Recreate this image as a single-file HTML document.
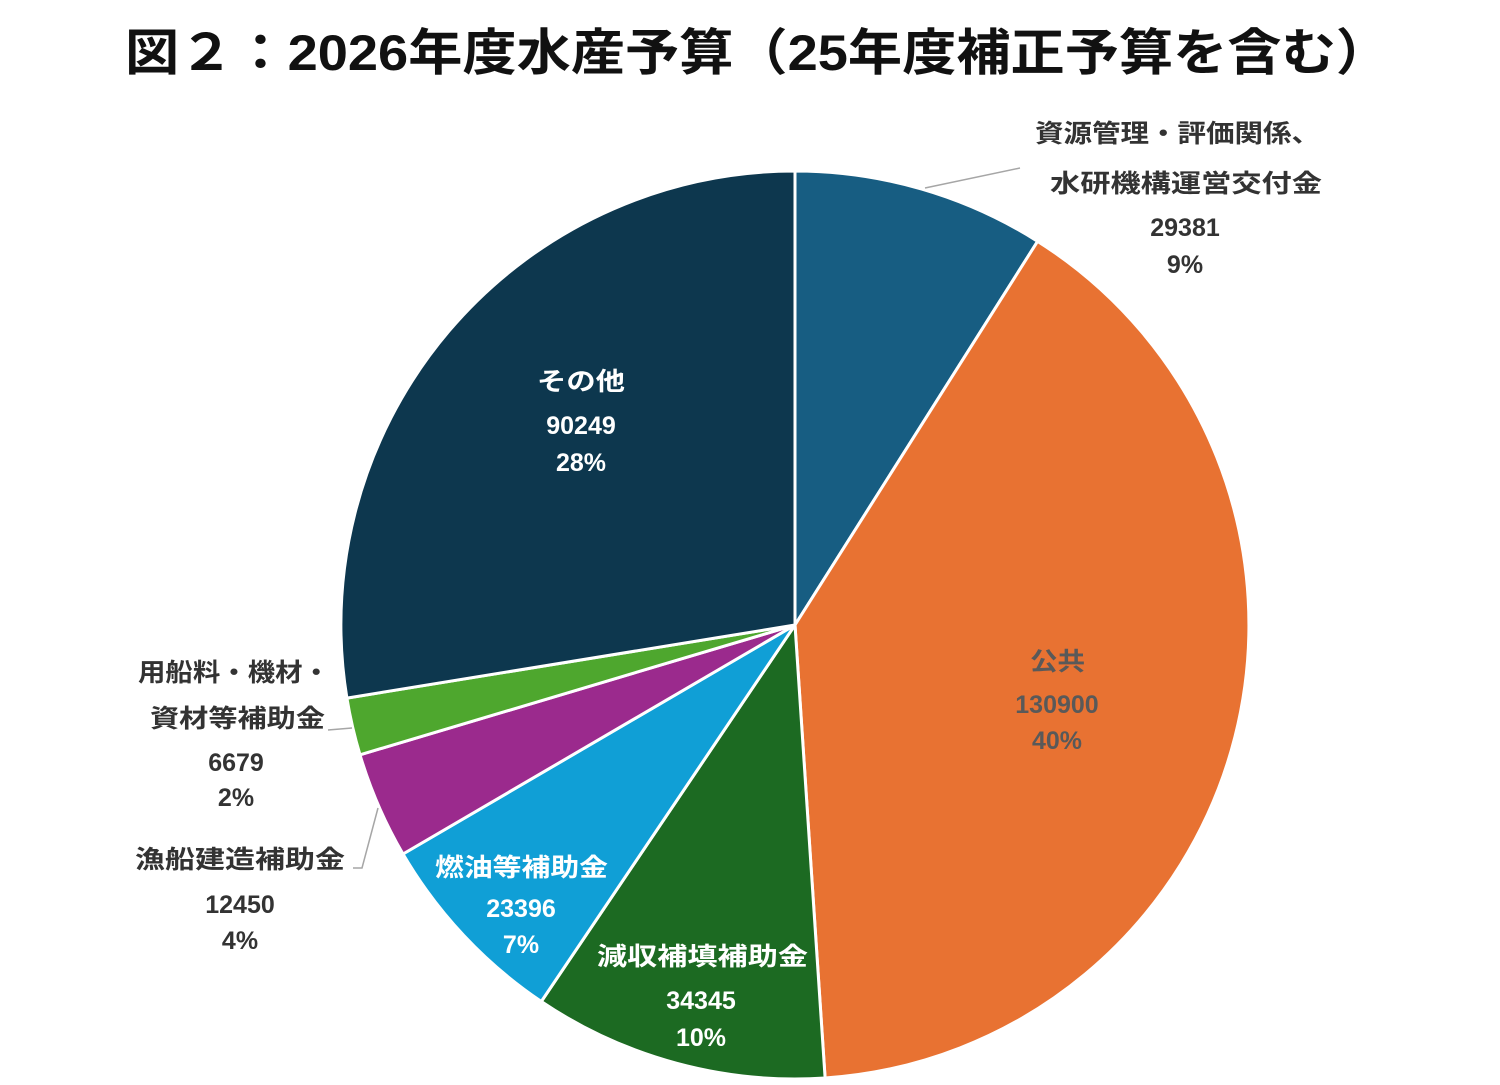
<!DOCTYPE html>
<html><head><meta charset="utf-8"><style>
html,body{margin:0;padding:0;background:#fff;}
svg text{font-family:"Liberation Sans","Noto Sans CJK JP",sans-serif;font-weight:bold;}
</style></head><body>
<svg width="1500" height="1080" viewBox="0 0 1500 1080" xmlns="http://www.w3.org/2000/svg">
<rect width="1500" height="1080" fill="#fff"/>
<text x="125" y="70" font-size="50" textLength="1265" lengthAdjust="spacingAndGlyphs" fill="#111">図２：2026年度水産予算（25年度補正予算を含む）</text>
<g stroke="#fff" stroke-width="3" stroke-linejoin="round">
<path d="M795,625 L795,171 A454,454 0 0 1 1037.6,241.3 Z" fill="#175d82"/>
<path d="M795,625 L1037.6,241.3 A454,454 0 0 1 825.1,1078 Z" fill="#e87232"/>
<path d="M795,625 L825.1,1078 A454,454 0 0 1 541.3,1001.5 Z" fill="#1c6a22"/>
<path d="M795,625 L541.3,1001.5 A454,454 0 0 1 403,854 Z" fill="#109fd6"/>
<path d="M795,625 L403,854 A454,454 0 0 1 360,754.8 Z" fill="#9b2a8d"/>
<path d="M795,625 L360,754.8 A454,454 0 0 1 346.9,698.1 Z" fill="#4ea72e"/>
<path d="M795,625 L346.9,698.1 A454,454 0 0 1 795,171 Z" fill="#0d374e"/>
</g>
<g fill="none" stroke="#a6a6a6" stroke-width="1.5">
<path d="M925,188 L1020,168"/>
<path d="M328,730 L352,728"/>
<path d="M353,868 L362,868 L378,808"/>
</g>
<g font-size="25" fill="#333" lengthAdjust="spacingAndGlyphs">
<text x="1035" y="142" textLength="285" lengthAdjust="spacingAndGlyphs">資源管理・評価関係、</text>
<text x="1050" y="192" textLength="272" lengthAdjust="spacingAndGlyphs">水研機構運営交付金</text>
<text x="138" y="681" textLength="192" lengthAdjust="spacingAndGlyphs">用船料・機材・</text>
<text x="150" y="727" textLength="175" lengthAdjust="spacingAndGlyphs">資材等補助金</text>
<text x="135" y="868" textLength="210" lengthAdjust="spacingAndGlyphs">漁船建造補助金</text>
</g>
<g font-size="25" text-anchor="middle" fill="#333">
<text x="1185" y="236">29381</text>
<text x="1185" y="273">9%</text>
<text x="236" y="771">6679</text>
<text x="236" y="806">2%</text>
<text x="240" y="913">12450</text>
<text x="240" y="949">4%</text>
</g>
<g font-size="25" fill="#fff">
<text x="537" y="390" textLength="88" lengthAdjust="spacingAndGlyphs">その他</text>
<text x="435" y="876" textLength="173" lengthAdjust="spacingAndGlyphs">燃油等補助金</text>
<text x="597" y="965" textLength="211" lengthAdjust="spacingAndGlyphs">減収補填補助金</text>
</g>
<g font-size="25" text-anchor="middle" fill="#fff">
<text x="581" y="434">90249</text>
<text x="581" y="471">28%</text>
<text x="521" y="917">23396</text>
<text x="521" y="953">7%</text>
<text x="701" y="1009">34345</text>
<text x="701" y="1046">10%</text>
</g>
<g font-size="25" fill="#595959">
<text x="1030" y="670" textLength="55" lengthAdjust="spacingAndGlyphs">公共</text>
</g>
<g font-size="25" text-anchor="middle" fill="#595959">
<text x="1057" y="713">130900</text>
<text x="1057" y="749">40%</text>
</g>
</svg>
</body></html>
